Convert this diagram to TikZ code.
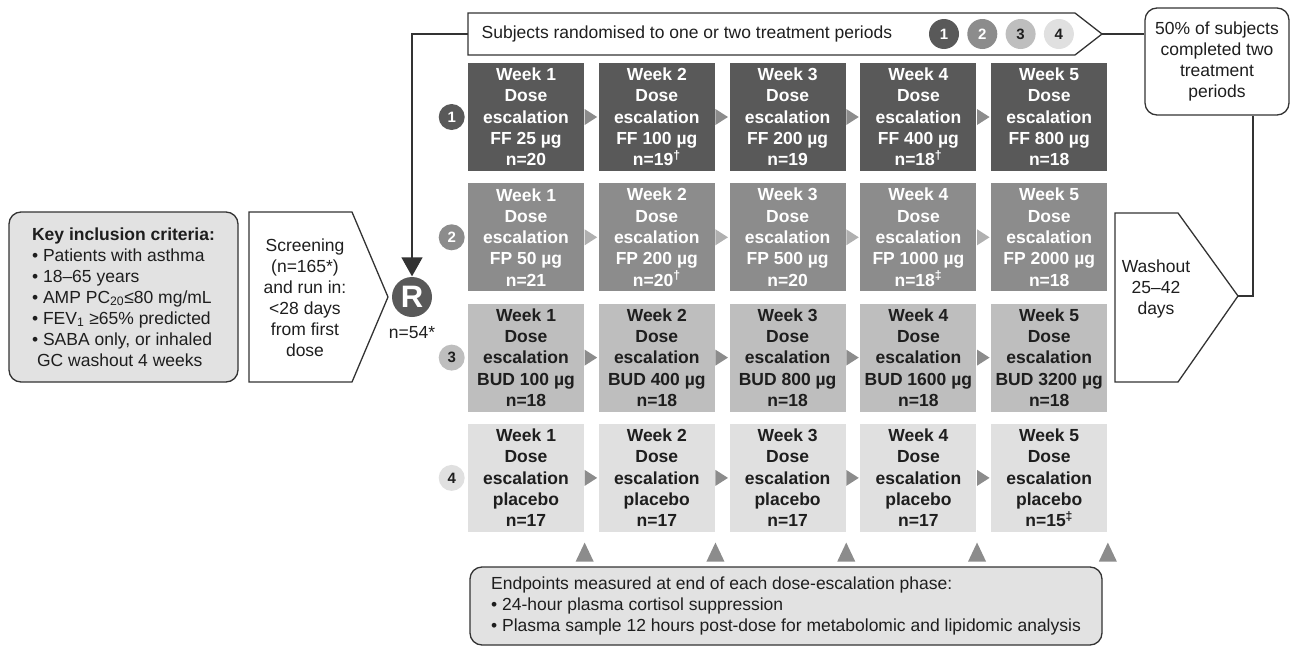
\documentclass[tikz,border=0pt]{standalone}
\usepackage{fontspec}
\setmainfont{Liberation Sans}
\usepackage{tikz}
\usetikzlibrary{arrows.meta, calc, positioning}
\definecolor{gone}{HTML}{595959}
\definecolor{gtwo}{HTML}{8C8C8C}
\definecolor{gthree}{HTML}{BEBEBE}
\definecolor{gfour}{HTML}{E0E0E0}
\definecolor{gtri}{HTML}{8C8C8C}
\definecolor{gtrilight}{HTML}{B0B0B0}
\definecolor{gbox}{HTML}{E2E2E2}
\definecolor{gline}{HTML}{333333}
\definecolor{gtext}{HTML}{1E1E1E}
\newcommand{\txt}{\fontsize{17.5}{21}\selectfont}

\begin{document}
\begin{tikzpicture}[x=1pt, y=-1pt, node distance=13.5pt, line width=1.3pt, color=gline, text=gtext, font=\txt,
  cell/.style={minimum width=116pt, minimum height=108pt, inner sep=0pt, align=center, font=\bfseries\fontsize{17.5}{21.3}\selectfont},
  r1/.style={cell, fill=gone, text=white},
  r2/.style={cell, fill=gtwo, text=white},
  r3/.style={cell, fill=gthree},
  r4/.style={cell, fill=gfour},
  num/.style={circle, minimum size=26pt, inner sep=0pt, font=\bfseries\fontsize{15}{15}\selectfont},
  roundbox/.style={draw, rounded corners=12pt, align=center, inner sep=0pt}]
\useasboundingbox (0,0) rectangle (1291,653);

% left side
\node (key) [roundbox, fill=gbox, minimum width=229pt, minimum height=170pt, align=left] at (123.5,297) {\textbf{Key inclusion criteria:}\\• Patients with asthma\\• 18--65 years\\• AMP PC\textsubscript{20}≤80 mg/mL\\• FEV\textsubscript{1} ≥65\% predicted\\• SABA only, or inhaled\\\hspace*{5pt}GC washout 4 weeks};
\draw (249,212) -- (352,212) -- (388,297) -- (352,382) -- (249,382) -- cycle;
\node (scr) [align=center, inner sep=0pt] at (305,298) {Screening\\(n=165*)\\and run in:\\<28 days\\from first\\dose};
\node (R) [circle, fill=gone, minimum size=40pt, inner sep=0pt, text=white, font=\bfseries\fontsize{31}{31}\selectfont] at (412,297) {R};
\node (nR) [below=8pt of R, inner sep=0pt] {n=54*};

% top banner
\draw (468,13) -- (1075,13) -- (1102,34) -- (1075,55) -- (468,55) -- cycle;
\coordinate (banL) at (468,34);
\coordinate (banR) at (1102,34);
\node (ban) [anchor=west, inner sep=0pt] at (481,34) {Subjects randomised to one or two treatment periods};
\node (b1) [num, minimum size=30pt, fill=gone, text=white] at (944,34) {1};
\node (b2) [num, minimum size=30pt, fill=gtwo, text=white, right=7pt of b1] {2};
\node (b3) [num, minimum size=30pt, fill=gthree, right=7pt of b2] {3};
\node (b4) [num, minimum size=30pt, fill=gfour, right=7pt of b3] {4};

% right side
\node (done) [roundbox, minimum width=144pt, minimum height=107pt] at (1217,61.5) {50\% of subjects\\completed two\\treatment\\periods};
\draw (1115,213) -- (1178,213) -- (1238,296) -- (1178,382) -- (1115,382) -- cycle;
\coordinate (wtip) at (1238,296);
\node (wash) [align=center, inner sep=0pt] at (1156,289) {Washout\\25--42\\days};

% treatment rows
\node (c11) [r1] at (526,117) {Week 1\\Dose\\escalation\\FF 25 µg\\n=20};
\node (c12) [r1, right=of c11] {Week 2\\Dose\\escalation\\FF 100 µg\\n=19\textsuperscript{\textdagger}};
\node (c13) [r1, right=of c12] {Week 3\\Dose\\escalation\\FF 200 µg\\n=19};
\node (c14) [r1, right=of c13] {Week 4\\Dose\\escalation\\FF 400 µg\\n=18\textsuperscript{\textdagger}};
\node (c15) [r1, right=of c14] {Week 5\\Dose\\escalation\\FF 800 µg\\n=18};

\node (c21) [r2, below=11pt of c11] {Week 1\\Dose\\escalation\\FP 50 µg\\n=21};
\node (c22) [r2, right=of c21] {Week 2\\Dose\\escalation\\FP 200 µg\\n=20\textsuperscript{\textdagger}};
\node (c23) [r2, right=of c22] {Week 3\\Dose\\escalation\\FP 500 µg\\n=20};
\node (c24) [r2, right=of c23] {Week 4\\Dose\\escalation\\FP 1000 µg\\n=18\textsuperscript{\textdaggerdbl}};
\node (c25) [r2, right=of c24] {Week 5\\Dose\\escalation\\FP 2000 µg\\n=18};

\node (c31) [r3, below=11pt of c21] {Week 1\\Dose\\escalation\\BUD 100 µg\\n=18};
\node (c32) [r3, right=of c31] {Week 2\\Dose\\escalation\\BUD 400 µg\\n=18};
\node (c33) [r3, right=of c32] {Week 3\\Dose\\escalation\\BUD 800 µg\\n=18};
\node (c34) [r3, right=of c33] {Week 4\\Dose\\escalation\\BUD 1600 µg\\n=18};
\node (c35) [r3, right=of c34] {Week 5\\Dose\\escalation\\BUD 3200 µg\\n=18};

\node (c41) [r4, below=11pt of c31] {Week 1\\Dose\\escalation\\placebo\\n=17};
\node (c42) [r4, right=of c41] {Week 2\\Dose\\escalation\\placebo\\n=17};
\node (c43) [r4, right=of c42] {Week 3\\Dose\\escalation\\placebo\\n=17};
\node (c44) [r4, right=of c43] {Week 4\\Dose\\escalation\\placebo\\n=17};
\node (c45) [r4, right=of c44] {Week 5\\Dose\\escalation\\placebo\\n=15\textsuperscript{\textdaggerdbl}};

\node (n1) [num, fill=gone, text=white, left=2pt of c11] {1};
\node (n2) [num, fill=gtwo, text=white, left=2pt of c21] {2};
\node (n3) [num, fill=gthree, left=2pt of c31] {3};
\node (n4) [num, fill=gfour, left=2pt of c41] {4};

% small arrows between weeks
\foreach \r/\col in {1/gtri, 2/gtrilight, 3/gtri, 4/gtri}
  \foreach \j in {1,...,4}
    \fill[\col] (c\r\j.east) ++(0,-8) -- ++(12.5,8) -- ++(-12.5,8) -- cycle;
\foreach \j in {1,...,5}
  \fill[gtri] ($(c4\j.south east)+(0,10)$) -- ++(9,19) -- ++(-18,0) -- cycle;

% endpoints
\node (endp) [roundbox, fill=gbox, minimum width=632pt, minimum height=78pt, align=left] at (786,606) {Endpoints measured at end of each dose-escalation phase:\\• 24-hour plasma cortisol suppression\\• Plasma sample 12 hours post-dose for metabolomic and lipidomic analysis};

% connectors
\draw[-{Triangle[width=21pt,length=19pt]}] (banL) -| (R.north);
\draw (banR) -- (banR -| done.west);
\draw (wtip) -| ([xshift=36pt]done.south);
\end{tikzpicture}
\end{document}
